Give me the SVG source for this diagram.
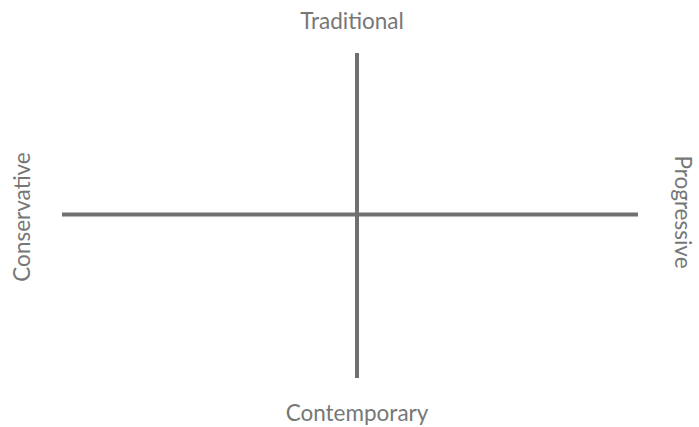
<svg xmlns="http://www.w3.org/2000/svg" width="699" height="427" viewBox="0 0 699 427">
<style>
.ax{stroke:#707070;stroke-width:4;fill:none}
.lbl{font-family:"Lato","Liberation Sans",sans-serif;font-size:22.5px;fill:#777777}
</style>
<rect width="699" height="427" fill="#ffffff"/>
<g id="connectors">
<line class="ax" x1="357" y1="53" x2="357" y2="378"/>
<line class="ax" x1="62" y1="214.5" x2="638" y2="214.5"/>
</g>
<g id="traditional"><text class="lbl" x="352" y="29" text-anchor="middle">Traditional</text></g>
<g id="contemporary"><text class="lbl" x="357" y="421" text-anchor="middle">Contemporary</text></g>
<g id="conservative"><text class="lbl" transform="translate(30,217) rotate(-90)" text-anchor="middle">Conservative</text></g>
<g id="progressive"><text class="lbl" transform="translate(675,212) rotate(90)" text-anchor="middle">Progressive</text></g>
</svg>
